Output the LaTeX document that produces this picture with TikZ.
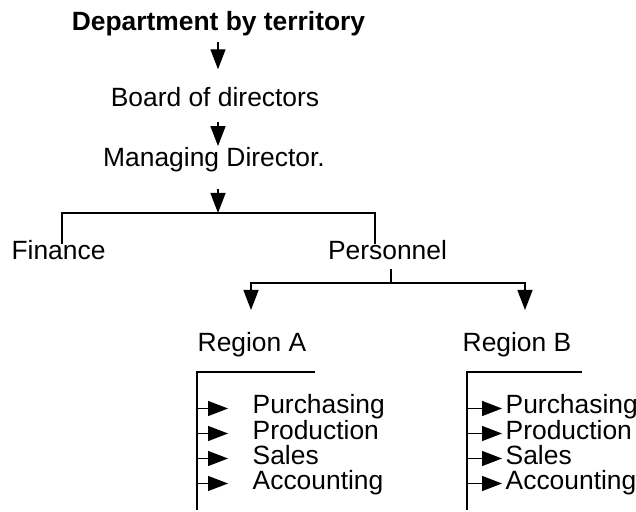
\documentclass[tikz,border=0pt]{standalone}
\usepackage{fontspec}
\setmainfont{Liberation Sans}
\usetikzlibrary{arrows.meta}

\begin{document}
\begin{tikzpicture}[x=0.5pt, y=-0.5pt, line width=0.7pt,
    lbl/.style={inner sep=0pt, text height=0.75em, text depth=0.2em, font=\fontsize{13.2}{15}\selectfont},
    arr/.style={-{Triangle[length=10pt, width=7.5pt]}}]
    \useasboundingbox (0,0) rectangle (636,512);

    % top of the chart
    \node[lbl, anchor=base, font=\fontsize{13.2}{15}\selectfont\bfseries] at (218.5, 31) (title) {Department by territory};
    \node[lbl, anchor=base] at (215, 107) (board) {Board of directors};
    \node[lbl, anchor=base] at (214, 167) (md) {Managing Director.};
    \node[lbl, anchor=base] at (58.5, 260) (fin) {Finance};
    \node[lbl, anchor=base] at (387.5, 260) (pers) {Personnel};
    \node[lbl, anchor=base west] at (197, 352) (regA) {Region A};
    \node[lbl, anchor=base west] at (462, 352) (regB) {Region B};

    \coordinate (top) at (218, 213);
    \coordinate (bl) at (62, 213);
    \coordinate (br) at (375, 213);
    \coordinate (pj) at (391, 283);
    \coordinate (ta) at (251, 310);
    \coordinate (tb) at (525, 310);

    \draw[arr, shorten <=3.4pt, shorten >=11pt] (title.south -| top) -- (board.north -| top);
    \draw[arr, shorten <=5.3pt, shorten >=2.6pt] (board.south -| top) -- (md.north -| top);
    \draw[arr, shorten <=8.8pt] (md.south -| top) -- (top);
    \draw (fin.north -| bl) -- (bl) -- (br) -- (pers.north -| br);
    \draw[shorten <=2.4pt] (pers.south -| pj) -- (pj);
    \draw[arr] (pj) -| (ta);
    \draw[arr] (pj) -| (tb);

    % regions
    \coordinate (aC) at (197, 372);
    \coordinate (bC) at (467, 372);
    \draw (315, 372) -- (aC) -- (197, 510);
    \draw (582, 372) -- (bC) -- (467, 510);

    \foreach \name/\txt/\yy in {p/Purchasing/414, r/Production/439, s/Sales/464, c/Accounting/489} {
        \node[lbl, anchor=base west] at (252, \yy) (A\name) {\txt};
        \node[lbl, anchor=base west] at (505, \yy) (B\name) {\txt};
        \draw[arr, shorten >=12pt] (A\name.west -| aC) -- (A\name.west);
        \draw[arr, shorten >=1.5pt] (B\name.west -| bC) -- (B\name.west);
    }
\end{tikzpicture}
\end{document}
